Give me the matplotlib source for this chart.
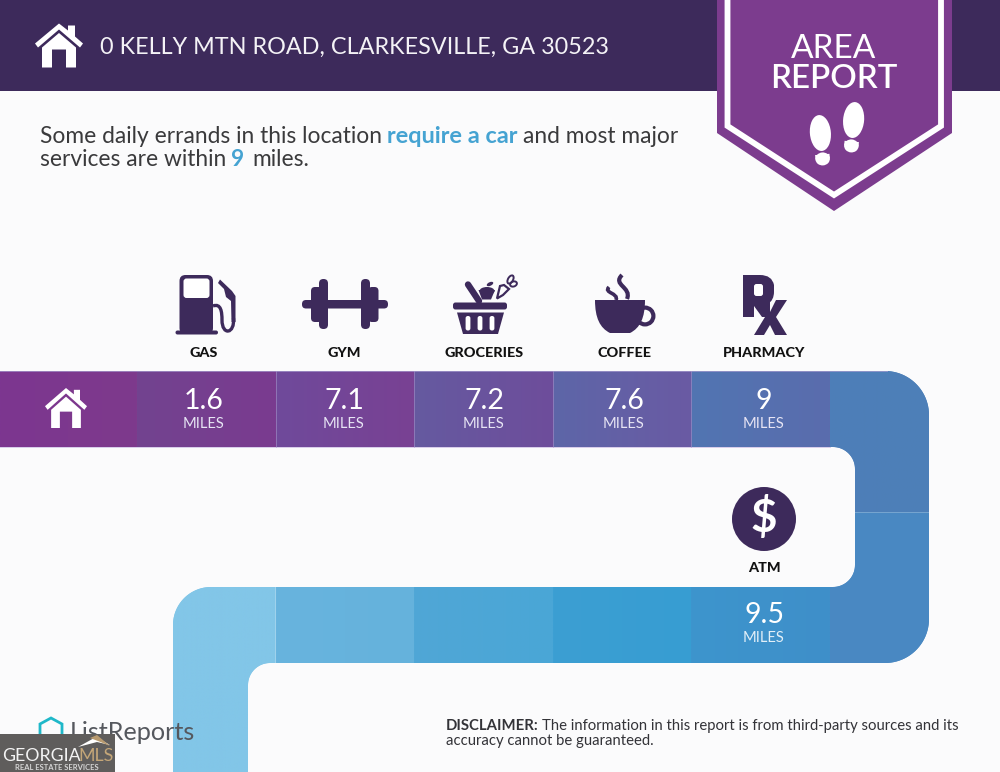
import numpy as np
import matplotlib
matplotlib.use("Agg")
import matplotlib.pyplot as plt
from matplotlib.patches import Polygon, Rectangle, Circle, Ellipse, FancyBboxPatch, PathPatch
from matplotlib.path import Path
from matplotlib.transforms import Affine2D
from matplotlib.colors import to_rgb

# ---- content ----
address = "0 KELLY MTN ROAD, CLARKESVILLE, GA 30523"
top_stops = ["GAS", "GYM", "GROCERIES", "COFFEE", "PHARMACY"]
top_miles = ["1.6", "7.1", "7.2", "7.6", "9"]
lower_stops = ["ATM"]
lower_miles = ["9.5"]
unit = "MILES"

FONT = "Lato"
plt.rcParams["font.family"] = [FONT, "DejaVu Sans"]
BG = "#fbfbfc"; DARK = "#3d2a5b"; PURPLE = "#7c3c8e"; BLUE = "#45a3d2"; INK = "#3a3a3c"

fig = plt.figure(figsize=(10, 7.72), dpi=100, facecolor=BG)
ax = fig.add_axes([0, 0, 1, 1])
ax.axis("off")
ax.set_xlim(0, 1000); ax.set_ylim(772, 0)


def rounded(points, radii):
    out = []
    n = len(points)
    for i, p in enumerate(points):
        p = np.array(p, float); r = radii[i]
        if r == 0:
            out.append(p); continue
        a = np.array(points[i - 1], float); b = np.array(points[(i + 1) % n], float)
        ua = (a - p) / np.linalg.norm(a - p); ub = (b - p) / np.linalg.norm(b - p)
        c = p + r * (ua + ub)
        for t in np.linspace(0, np.pi / 2, 24):
            out.append(c - r * (ub * np.cos(t) + ua * np.sin(t)))
    return np.array(out)


def cell(points, radii, left, right, z=2):
    """Ribbon segment with a left-to-right colour blend, clipped to its outline."""
    pts = rounded(points, radii)
    x0, x1 = pts[:, 0].min(), pts[:, 0].max()
    y0, y1 = pts[:, 1].min(), pts[:, 1].max()
    t = np.linspace(0, 1, 128)[None, :, None]
    img = np.array(to_rgb(left))[None, None, :] * (1 - t) + np.array(to_rgb(right))[None, None, :] * t
    ax.add_patch(Polygon(pts, closed=True, fc=right, ec="none", zorder=z - 0.1))
    im = ax.imshow(img, extent=(x0, x1, y1, y0), aspect="auto", zorder=z, interpolation="bilinear")
    clip = Polygon(pts, closed=True, transform=ax.transData, fc="none", ec="none")
    ax.add_patch(clip)
    im.set_clip_path(clip)


def house(cx, top, w, h, fc):
    """House glyph: roof chevron, chimney, walls, door."""
    s = w / 48.0; v = h / 44.0
    X = lambda d: cx + d * s
    Y = lambda d: top + d * v
    ax.add_patch(Polygon([(X(-24), Y(20)), (X(0), Y(0)), (X(9), Y(7)), (X(9), Y(2)), (X(16), Y(2)),
                          (X(16), Y(13)), (X(24), Y(20)), (X(21), Y(24)), (X(0), Y(6)), (X(-21), Y(24))],
                         fc=fc, ec="none", zorder=6))
    ax.add_patch(Polygon([(X(0), Y(9.5)), (X(17), Y(24)), (X(17), Y(44)), (X(7), Y(44)), (X(7), Y(26)),
                          (X(-7), Y(26)), (X(-7), Y(44)), (X(-17), Y(44)), (X(-17), Y(24))],
                         fc=fc, ec="none", zorder=6))


def rbox(x0, y0, x1, y1, r, fc, z=6):
    ax.add_patch(FancyBboxPatch((x0 + r, y0 + r), x1 - x0 - 2 * r, y1 - y0 - 2 * r,
                                boxstyle=f"round,pad={r},rounding_size={r}", fc=fc, ec="none", zorder=z))


def shoe(cx, cy, ang):
    tr = Affine2D().rotate_deg(ang).translate(cx, cy) + ax.transData
    ax.add_patch(Ellipse((0, -7), 21, 36, fc="white", ec="none", zorder=6, transform=tr))
    ax.add_patch(Ellipse((0, 19), 14.5, 13, fc="white", ec="none", zorder=6, transform=tr))
    ax.add_patch(Rectangle((-7.2, 14.5), 14.4, 4.5, fc="white", ec="none", zorder=6, transform=tr))


# ---- header ----
ax.add_patch(Rectangle((0, 0), 1000, 91, fc=DARK, ec="none", zorder=1))
house(59, 23.5, 48, 44, "white")
ax.text(100, 47, address, color="#f4f2f6", fontsize=16.85, va="center", ha="left", zorder=6)

# ---- badge ----
ax.add_patch(Polygon([(717, 0), (952, 0), (952, 133), (834, 211), (717, 133)], fc=PURPLE, ec="none", zorder=3))
ax.plot([727.5, 727.5, 834, 941, 941], [0, 126, 195, 126, 0], color="white", lw=4.2, zorder=4,
        solid_joinstyle="miter", solid_capstyle="butt")
ax.text(834, 49, "AREA", color="white", fontsize=24, ha="center", va="center", zorder=6)
ax.text(834, 79, "REPORT", color="white", fontsize=23.8, ha="center", va="center", zorder=6,
        fontweight="semibold")
shoe(821, 140, -5)
shoe(853, 127, 5)

# ---- intro text ----
tk = dict(fontsize=16.4, va="center", ha="left", zorder=6)
ax.text(40, 136.5, "Some daily errands in this location", color=INK, **tk)
ax.text(387, 136.5, "require a car", color=BLUE, fontweight="bold", fontsize=16.9, va="center", ha="left", zorder=6)
ax.text(523, 136.5, "and most major", color=INK, **tk)
ax.text(40, 159, "services are within", color=INK, **tk)
ax.text(231, 159, "9", color=BLUE, fontweight="bold", **tk)
ax.text(252, 159, "miles.", color=INK, **tk)

# ---- ribbon ----
TOP0, TOP1, LOW0, LOW1 = 371, 447, 587, 663
RIGHT, INNER, LEFT, LEFT_IN = 929, 855, 173, 248
START, STEP = 137, 138.5
edges = [START + STEP * i for i in range(len(top_stops) + 1)]
top_left = ["#72438f", "#6f4a9b", "#655aa0", "#5d66a8", "#5175b2"]
top_right = ["#7a3b90", "#794193", "#6e4d9b", "#6a5aa3", "#5a6cad"]
low_left = ["#68b4de", "#50a7d6", "#3c9fd3", "#3d95cd"]
low_right = ["#65b2dc", "#4aa6d6", "#379dd2", "#3f8fc9"]

cell([(0, TOP0), (edges[0], TOP0), (edges[0], TOP1), (0, TOP1)], [0] * 4, "#7c3690", "#7e3a8c")
for i in range(len(top_stops)):
    cell([(edges[i], TOP0), (edges[i + 1], TOP0), (edges[i + 1], TOP1), (edges[i], TOP1)], [0] * 4,
         top_left[i], top_right[i])
    if i:
        ax.plot([edges[i]] * 2, [TOP0, TOP1], color="#9a84c0", lw=0.7, alpha=0.75, zorder=3)
cell([(edges[-1], TOP0), (RIGHT, TOP0), (RIGHT, 512), (INNER, 512), (INNER, TOP1), (edges[-1], TOP1)],
     [0, 44, 0, 0, 22, 0], "#4d7eb8", "#4e80b8")
cell([(INNER, 512.5), (RIGHT, 512.5), (RIGHT, LOW1), (edges[-1], LOW1), (edges[-1], LOW0), (INNER, LOW0)],
     [0, 0, 44, 0, 0, 22], "#4989c3", "#4a88c2")
for i, (l, r) in enumerate(zip(low_left, low_right)):
    cell([(edges[i + 1], LOW0), (edges[i + 2], LOW0), (edges[i + 2], LOW1), (edges[i + 1], LOW1)], [0] * 4, l, r)
cell([(LEFT, LOW0), (edges[1], LOW0), (edges[1], LOW1), (LEFT_IN, LOW1), (LEFT_IN, 772), (LEFT, 772)],
     [38, 0, 0, 22, 0, 0], "#82c6e8", "#82c6e8")
ax.plot([0, 887], [TOP0, TOP0], color="#a99fd0", lw=0.7, alpha=0.7, zorder=3)
ax.plot([0, 830], [TOP1, TOP1], color="#c8b8e2", lw=0.7, alpha=0.7, zorder=3)

house(66, 388, 42, 40, "white")

# ---- stop labels and distances ----
centers = [204 + 140 * i for i in range(len(top_stops))]
lab = dict(color="#111111", fontsize=10.4, fontweight="black", ha="center", va="center", zorder=6)
num = dict(color="white", fontsize=20.5, ha="center", va="center", zorder=6)
for c, name, m in zip(centers, top_stops, top_miles):
    ax.text(c, 353, name, **lab)
    ax.text(c, 401, m, **num)
    ax.text(c, 424, unit, color="#e7e4f4", fontsize=10.6, ha="center", va="center", zorder=6)
atm_c = centers[-1]
ax.text(atm_c, 567.5, lower_stops[0], **lab)
ax.text(atm_c, 615, lower_miles[0], **num)
ax.text(atm_c, 638, unit, color="#e2eff8", fontsize=10.6, ha="center", va="center", zorder=6)

# ---- icons ----
# gas pump
rbox(179.5, 275, 213, 334, 6, DARK)
rbox(175.5, 330.5, 218, 334.5, 2, DARK)
rbox(183.5, 278.5, 209.5, 298, 3, "white", z=6.5)
ax.add_patch(Polygon([(218, 283), (220, 279.5), (232, 291), (235.5, 296), (235.5, 322), (231.5, 322),
                      (231, 301), (226, 297), (224, 289)], fc=DARK, ec="none", zorder=6))
hose = Path([(213, 306), (221, 303), (222, 312), (222, 320), (222, 336), (235, 334), (233.5, 318)],
            [Path.MOVETO, Path.CURVE4, Path.CURVE4, Path.CURVE4, Path.CURVE4, Path.CURVE4, Path.CURVE4])
ax.add_patch(PathPatch(hose, fc="none", ec=DARK, lw=2.4, zorder=6))

# dumbbell
rbox(302, 300, 388, 308.5, 4, DARK)
rbox(311, 287, 322, 322, 4, DARK)
rbox(319, 279, 328, 329, 4.4, DARK)
rbox(368, 287, 378.5, 322, 4, DARK)
rbox(361, 279, 370, 329, 4.4, DARK)

# basket
rbox(453, 302.5, 507, 309.5, 2.5, DARK)
ax.add_patch(Polygon([(457, 312.5), (504, 312.5), (498, 334), (463, 334)], fc=DARK, ec="none", zorder=6))
for x in (468, 480, 492):
    rbox(x - 2.4, 316, x + 2.4, 330.5, 2.2, "white", z=6.5)
ax.plot([468, 479], [284.5, 301], color=DARK, lw=4.6, solid_capstyle="round", zorder=6)
ax.add_patch(Polygon([(478.5, 290), (495, 290), (491, 299.5), (482, 299.5)], fc=DARK, ec="none", zorder=6))
ax.add_patch(Ellipse((487, 291), 15, 8, fc=DARK, ec="none", zorder=6))
ax.add_patch(Ellipse((490, 284), 7, 3.6, angle=-25, fc=DARK, ec="none", zorder=6))
ax.add_patch(Polygon([(497, 298.5), (500, 286), (504, 285), (509, 289), (503, 295)], fc="none", ec=DARK, lw=1.6, zorder=6))
ax.add_patch(Ellipse((510.5, 279.5), 5, 9, angle=30, fc="none", ec=DARK, lw=1.4, zorder=6))
ax.add_patch(Ellipse((513.5, 284), 5, 7, angle=70, fc="none", ec=DARK, lw=1.4, zorder=6))

# coffee cup
cup = Path([(595, 300), (645, 300), (645, 318), (640, 328), (630, 333), (610, 333), (600, 328), (595, 318), (595, 300), (595, 300)],
           [Path.MOVETO, Path.LINETO, Path.CURVE4, Path.CURVE4, Path.CURVE4, Path.LINETO, Path.CURVE4, Path.CURVE4, Path.CURVE4, Path.CLOSEPOLY])
ax.add_patch(PathPatch(cup, fc=DARK, ec="none", zorder=6))
ax.add_patch(Circle((645, 316), 8.4, fc="none", ec=DARK, lw=3.0, zorder=5.9))
ax.add_patch(PathPatch(Path([(622, 275), (612, 285), (632, 287), (627, 299)],
                            [Path.MOVETO, Path.CURVE4, Path.CURVE4, Path.CURVE4]),
                       fc="none", ec=DARK, lw=3.0, zorder=6))
ax.add_patch(PathPatch(Path([(609, 287), (603, 293), (619, 293), (616, 300)],
                            [Path.MOVETO, Path.CURVE4, Path.CURVE4, Path.CURVE4]),
                       fc="none", ec=DARK, lw=2.6, zorder=6))

# Rx
bowl = Path([(743, 275), (760, 275), (772, 275), (774, 285), (774, 292), (774, 300), (768, 304), (763, 305),
             (774, 317), (762, 317), (754, 306), (754, 317), (743, 317), (743, 275)],
            [Path.MOVETO, Path.LINETO, Path.CURVE3, Path.CURVE3, Path.LINETO, Path.CURVE3, Path.CURVE3, Path.LINETO,
             Path.LINETO, Path.LINETO, Path.LINETO, Path.LINETO, Path.LINETO, Path.CLOSEPOLY])
ax.add_patch(PathPatch(bowl, fc=DARK, ec="none", zorder=6))
rbox(754, 284, 763, 296, 2.5, "white", z=6.5)
ax.add_patch(Polygon([(758, 300), (770, 300), (770, 312), (776, 300), (787, 300), (776, 317), (787, 335),
                      (775, 335), (770, 325), (764, 335), (754, 335), (765, 317)],
                     fc=DARK, ec="none", zorder=6.6))

# atm
ax.add_patch(Circle((764, 519), 32, fc=DARK, ec="none", zorder=6))
ax.text(764, 518, "$", color="white", fontsize=33, fontweight="bold", ha="center", va="center", zorder=7)

# ---- footer ----
dk = dict(fontsize=10.7, color="#333338", ha="left", va="center", zorder=6)
ax.text(446, 726, "DISCLAIMER:", fontweight="bold", **dk)
ax.text(541.5, 726, "The information in this report is from third-party sources and its", **dk)
ax.text(446, 741.5, "accuracy cannot be guaranteed.", **dk)

ax.add_patch(Polygon([(51, 718), (62, 724), (62, 735), (51, 741), (40, 735), (40, 724)], fc="none", ec="#1fb8c9", lw=2, zorder=6))
ax.text(70, 732, "ListReports", color="#55585e", fontsize=18.2, ha="left", va="center", zorder=6)

ax.add_patch(Rectangle((0, 734), 114.5, 38, fc="#5f5d5c", ec="none", zorder=8))
ax.add_patch(Polygon([(78, 747), (96, 737), (110, 745), (97, 742)], fc="white", ec="none", zorder=9))
ax.add_patch(Polygon([(90, 738), (97, 735), (110, 746), (98, 741)], fc="#b89a6f", ec="none", zorder=9))
ax.text(2, 756, "GEORGIA", color="#f3f3f3", fontsize=12.8, ha="left", va="center", zorder=9)
ax.text(78, 756, "MLS", color="#c4a678", fontsize=12.8, ha="left", va="center", zorder=9)
ax.text(57, 767.5, "REAL ESTATE SERVICES", color="#d5d5d5", fontsize=5.5, fontweight="bold", ha="center", va="center", zorder=9)

ax.set_xlim(0, 1000); ax.set_ylim(772, 0)
fig.savefig("out.png", dpi=100, facecolor=BG)
